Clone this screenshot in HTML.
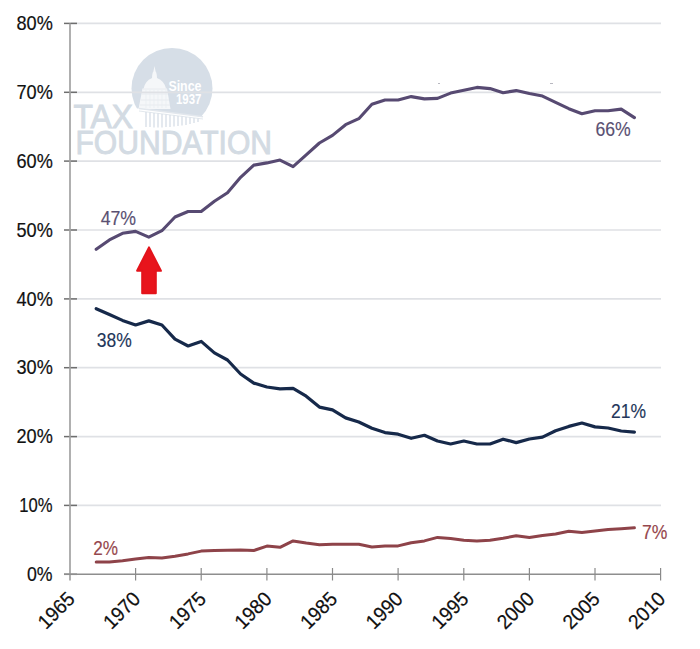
<!DOCTYPE html>
<html><head><meta charset="utf-8"><style>
html,body{margin:0;padding:0;background:#fff;}
svg{display:block;}
.ax{font-family:"Liberation Sans",sans-serif;font-size:20.2px;fill:#111;stroke:#111;stroke-width:0.2px;}
.dl{font-family:"Liberation Sans",sans-serif;font-size:20px;stroke-width:0.15px;}
.since{font-family:"Liberation Sans",sans-serif;font-weight:bold;font-size:15px;fill:#fff;}
.tf{font-family:"Liberation Sans",sans-serif;font-size:32.5px;fill:#d3dbe3;stroke:#d3dbe3;stroke-width:0.9px;}
</style></head><body>
<svg width="700" height="649" viewBox="0 0 700 649">
<rect width="700" height="649" fill="#fff"/>

<g>
<circle cx="172" cy="88.5" r="40.5" fill="#d6dee7"/>
<!-- building white area below roof -->
<path d="M128,108.5 L140,108.5 L204,117 L214,117 L214,132 L128,132 Z" fill="#fff"/>
<!-- dome -->
<path d="M154.5,66 L155.6,71.5 Q156.8,72.5 157,78 Q164.5,81 166,88.6 L167,88.6 L170.5,109 L138.5,109 L142.5,88.6 L143.6,88.6 Q145,81 152,78 Q152.2,72.5 153.4,71.5 Z" fill="#f5f7f9"/>
<path d="M143,89 L167,89 M142,94 L168,94 M141,100 L169,100 M140,105 L170,105" stroke="#e4e9ee" stroke-width="0.8" fill="none"/>
<path d="M146,90 V108 M150,90 V108 M154,90 V108 M158,90 V108 M162,90 V108 M166,90 V108" stroke="#e8ecf0" stroke-width="0.7" fill="none"/>
<!-- roof line -->
<path d="M139,108.5 L203,116.8" stroke="#e2e7ed" stroke-width="1.4" fill="none"/>
<path d="M139,111 L203,119" stroke="#dfe5eb" stroke-width="0.9" fill="none"/>
<path d="M146,112 V127 M150,112.5 V127 M154,113 V127.5 M158,113.5 V127.5 M162,114 V127.5 M166,114.5 V127 M170,115 V127 M174,115.5 V126.5 M178,116 V126 M182,116.5 V125.5 M186,117 V125 M190,117.5 V124 M194,118 V123 M198,118.5 V122" stroke="#d3dbe4" stroke-width="1.2" fill="none"/>
<text x="168.4" y="90.7" textLength="33" lengthAdjust="spacingAndGlyphs" class="since">Since</text>
<text x="176" y="103.6" textLength="25.4" lengthAdjust="spacingAndGlyphs" class="since">1937</text>
<text x="73.5" y="127.7" textLength="59.5" lengthAdjust="spacingAndGlyphs" class="tf">TAX</text>
<text x="75.5" y="154.2" textLength="196.5" lengthAdjust="spacingAndGlyphs" class="tf">FOUNDATION</text>
</g>

<line x1="71" y1="505.4" x2="661" y2="505.4" stroke="#dfe1e5" stroke-width="1.7"/><line x1="71" y1="436.6" x2="661" y2="436.6" stroke="#dfe1e5" stroke-width="1.7"/><line x1="71" y1="367.7" x2="661" y2="367.7" stroke="#dfe1e5" stroke-width="1.7"/><line x1="71" y1="298.9" x2="661" y2="298.9" stroke="#dfe1e5" stroke-width="1.7"/><line x1="71" y1="230.0" x2="661" y2="230.0" stroke="#dfe1e5" stroke-width="1.7"/><line x1="71" y1="161.1" x2="661" y2="161.1" stroke="#dfe1e5" stroke-width="1.7"/><line x1="71" y1="92.3" x2="661" y2="92.3" stroke="#dfe1e5" stroke-width="1.7"/><line x1="71" y1="23.4" x2="661" y2="23.4" stroke="#dfe1e5" stroke-width="1.7"/><line x1="64" y1="574.3" x2="77" y2="574.3" stroke="#6e6e6e" stroke-width="1.5"/><line x1="64" y1="505.4" x2="77" y2="505.4" stroke="#6e6e6e" stroke-width="1.5"/><line x1="64" y1="436.6" x2="77" y2="436.6" stroke="#6e6e6e" stroke-width="1.5"/><line x1="64" y1="367.7" x2="77" y2="367.7" stroke="#6e6e6e" stroke-width="1.5"/><line x1="64" y1="298.9" x2="77" y2="298.9" stroke="#6e6e6e" stroke-width="1.5"/><line x1="64" y1="230.0" x2="77" y2="230.0" stroke="#6e6e6e" stroke-width="1.5"/><line x1="64" y1="161.1" x2="77" y2="161.1" stroke="#6e6e6e" stroke-width="1.5"/><line x1="64" y1="92.3" x2="77" y2="92.3" stroke="#6e6e6e" stroke-width="1.5"/><line x1="64" y1="23.4" x2="77" y2="23.4" stroke="#6e6e6e" stroke-width="1.5"/><line x1="70" y1="23.4" x2="70" y2="580.5" stroke="#a2a2a2" stroke-width="1.7"/><line x1="64" y1="574.3" x2="661" y2="574.3" stroke="#8e8e8e" stroke-width="1.5"/><line x1="135.6" y1="568" x2="135.6" y2="580.5" stroke="#8a8a8a" stroke-width="1.2"/><line x1="201.2" y1="568" x2="201.2" y2="580.5" stroke="#8a8a8a" stroke-width="1.2"/><line x1="266.9" y1="568" x2="266.9" y2="580.5" stroke="#8a8a8a" stroke-width="1.2"/><line x1="332.5" y1="568" x2="332.5" y2="580.5" stroke="#8a8a8a" stroke-width="1.2"/><line x1="398.1" y1="568" x2="398.1" y2="580.5" stroke="#8a8a8a" stroke-width="1.2"/><line x1="463.8" y1="568" x2="463.8" y2="580.5" stroke="#8a8a8a" stroke-width="1.2"/><line x1="529.4" y1="568" x2="529.4" y2="580.5" stroke="#8a8a8a" stroke-width="1.2"/><line x1="595.0" y1="568" x2="595.0" y2="580.5" stroke="#8a8a8a" stroke-width="1.2"/><line x1="660.6" y1="568" x2="660.6" y2="580.5" stroke="#8a8a8a" stroke-width="1.2"/>

<polyline points="96.2,249.3 109.4,239.9 122.5,233.3 135.6,231.4 148.8,237.1 161.9,230.7 175.0,217.0 188.1,211.5 201.2,211.5 214.4,201.3 227.5,192.8 240.6,177.3 253.8,165.1 266.9,162.9 280.0,160.1 293.1,166.7 306.2,154.9 319.4,143.0 332.5,135.4 345.6,124.7 358.8,118.7 371.9,104.2 385.0,100.0 398.1,100.0 411.2,96.6 424.4,98.9 437.5,98.4 450.6,93.1 463.8,90.2 476.9,87.4 490.0,88.6 503.1,92.7 516.2,90.6 529.4,93.6 542.5,96.1 555.6,102.3 568.8,108.7 581.9,113.7 595.0,110.7 608.1,110.7 621.2,109.1 634.4,117.6" fill="none" stroke="#574a72" stroke-width="3.1" stroke-linejoin="round" stroke-linecap="round"/>
<polyline points="96.2,308.7 109.4,314.5 122.5,320.4 135.6,325.0 148.8,320.9 161.9,325.0 175.0,339.1 188.1,346.0 201.2,341.4 214.4,352.9 227.5,360.0 240.6,374.0 253.8,383.1 266.9,387.0 280.0,388.9 293.1,388.4 306.2,396.2 319.4,407.1 332.5,409.9 345.6,417.9 358.8,422.0 371.9,428.2 385.0,432.6 398.1,434.2 411.2,438.3 424.4,435.3 437.5,441.0 450.6,444.0 463.8,441.0 476.9,444.0 490.0,444.0 503.1,439.2 516.2,442.6 529.4,439.0 542.5,437.1 555.6,430.7 568.8,426.4 581.9,423.0 595.0,426.9 608.1,428.0 621.2,431.0 634.4,432.1" fill="none" stroke="#16294a" stroke-width="3.2" stroke-linejoin="round" stroke-linecap="round"/>
<polyline points="96.2,561.9 109.4,561.9 122.5,560.7 135.6,559.1 148.8,557.5 161.9,558.0 175.0,556.2 188.1,553.9 201.2,551.1 214.4,550.5 227.5,550.3 240.6,550.0 253.8,550.5 266.9,546.1 280.0,547.3 293.1,540.9 306.2,543.1 319.4,544.7 332.5,544.3 345.6,544.3 358.8,544.3 371.9,547.0 385.0,545.9 398.1,545.9 411.2,542.7 424.4,540.9 437.5,537.4 450.6,538.6 463.8,540.2 476.9,540.9 490.0,540.2 503.1,538.2 516.2,535.8 529.4,537.4 542.5,535.6 555.6,534.0 568.8,531.3 581.9,532.4 595.0,531.0 608.1,529.4 621.2,528.7 634.4,527.8" fill="none" stroke="#8e4349" stroke-width="3.0" stroke-linejoin="round" stroke-linecap="round"/>


<text x="100.7" y="224.5" textLength="35.4" lengthAdjust="spacingAndGlyphs" class="dl" fill="#5a5072" stroke="#5a5072">47%</text>
<text x="96.8" y="347.2" textLength="35" lengthAdjust="spacingAndGlyphs" class="dl" fill="#23365a" stroke="#23365a">38%</text>
<text x="611" y="418.2" textLength="35" lengthAdjust="spacingAndGlyphs" class="dl" fill="#23365a" stroke="#23365a">21%</text>
<text x="595.5" y="136.3" textLength="35.3" lengthAdjust="spacingAndGlyphs" class="dl" fill="#5a5072" stroke="#5a5072">66%</text>
<text x="93.2" y="554.6" textLength="24.8" lengthAdjust="spacingAndGlyphs" class="dl" fill="#96474d" stroke="#96474d">2%</text>
<text x="641.9" y="539" textLength="25.4" lengthAdjust="spacingAndGlyphs" class="dl" fill="#96474d" stroke="#96474d">7%</text>

<path d="M149,247.4 L160.9,270.8 L155.8,270.8 L155.8,293.3 L142.2,293.3 L142.2,270.8 L137.1,270.8 Z" fill="#e8141c" stroke="#e3131b" stroke-width="2" stroke-linejoin="round"/>
<rect x='438' y='83' width='2' height='1' fill='#b8b8c0'/><rect x='550' y='83' width='3' height='1' fill='#b8b8c0'/>
<text x="27.0" y="580.9" textLength="25.6" lengthAdjust="spacingAndGlyphs" class="ax">0%</text><text x="19.3" y="512.0" textLength="33.3" lengthAdjust="spacingAndGlyphs" class="ax">10%</text><text x="16.5" y="443.2" textLength="36.3" lengthAdjust="spacingAndGlyphs" class="ax">20%</text><text x="16.5" y="374.3" textLength="36.3" lengthAdjust="spacingAndGlyphs" class="ax">30%</text><text x="16.5" y="305.5" textLength="36.3" lengthAdjust="spacingAndGlyphs" class="ax">40%</text><text x="16.5" y="236.6" textLength="36.3" lengthAdjust="spacingAndGlyphs" class="ax">50%</text><text x="16.5" y="167.7" textLength="36.3" lengthAdjust="spacingAndGlyphs" class="ax">60%</text><text x="16.5" y="98.9" textLength="36.3" lengthAdjust="spacingAndGlyphs" class="ax">70%</text><text x="16.5" y="30.0" textLength="36.3" lengthAdjust="spacingAndGlyphs" class="ax">80%</text>
<text transform="translate(76.0,600.2) rotate(-45)" text-anchor="end" textLength="42.5" lengthAdjust="spacingAndGlyphs" class="ax">1965</text><text transform="translate(141.6,600.2) rotate(-45)" text-anchor="end" textLength="42.5" lengthAdjust="spacingAndGlyphs" class="ax">1970</text><text transform="translate(207.2,600.2) rotate(-45)" text-anchor="end" textLength="42.5" lengthAdjust="spacingAndGlyphs" class="ax">1975</text><text transform="translate(272.9,600.2) rotate(-45)" text-anchor="end" textLength="42.5" lengthAdjust="spacingAndGlyphs" class="ax">1980</text><text transform="translate(338.5,600.2) rotate(-45)" text-anchor="end" textLength="42.5" lengthAdjust="spacingAndGlyphs" class="ax">1985</text><text transform="translate(404.1,600.2) rotate(-45)" text-anchor="end" textLength="42.5" lengthAdjust="spacingAndGlyphs" class="ax">1990</text><text transform="translate(469.8,600.2) rotate(-45)" text-anchor="end" textLength="42.5" lengthAdjust="spacingAndGlyphs" class="ax">1995</text><text transform="translate(535.4,600.2) rotate(-45)" text-anchor="end" textLength="42.5" lengthAdjust="spacingAndGlyphs" class="ax">2000</text><text transform="translate(601.0,600.2) rotate(-45)" text-anchor="end" textLength="42.5" lengthAdjust="spacingAndGlyphs" class="ax">2005</text><text transform="translate(666.6,600.2) rotate(-45)" text-anchor="end" textLength="42.5" lengthAdjust="spacingAndGlyphs" class="ax">2010</text>
</svg>
</body></html>
